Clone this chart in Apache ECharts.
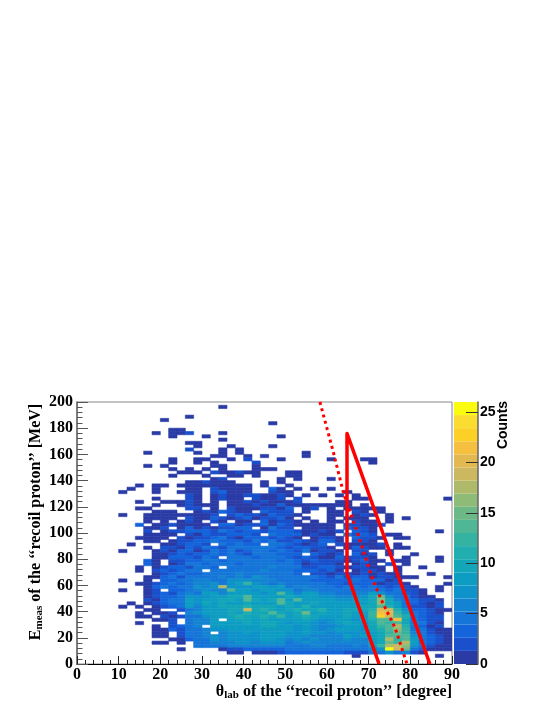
<!DOCTYPE html>
<html>
<head>
<meta charset="utf-8">
<title>recoil proton</title>
<script src="https://cdn.jsdelivr.net/npm/echarts@6/dist/echarts.min.js"></script>
<style>
  html, body { margin: 0; padding: 0; background: #fff; }
  #chart { width: 554px; height: 717px; }
</style>
</head>
<body>
<div id="chart"></div>
<script>
// counts per bin, base 36, top row first (2 deg x 2.5 MeV bins)
const countRows = [
  '..... ..... ..... ..... ..... ..... ..... ..... .....',
  '..... ..... ..... ..1.. ..... ..... ..... ..... .....',
  '..... ..... ..... ..... ..... ..... ..... ..... .....',
  '..... ..... ..... ..... ..... ..... ..... ..... .....',
  '..... ..... ...1. ..... ..... ..... ..... ..... .....',
  '..... ..... 1.... ..... ..... ..... ..... ..... .....',
  '..... ..... ..... ..... ...1. ..... ..... ..... .....',
  '..... ..... ..... ..... ..... ..... ..... ..... .....',
  '..... ..... .11.. ..... ..... ..... ..... ..... .....',
  '..... ....1 .112. ..1.. ..... ..... ..... ..... .....',
  '..... ..... .1... 1.... ....1 ..... ..... ..... .....',
  '..... ..... ..... ..1.. ..... ..... ..... ..... .....',
  '..... ..... ...11 ..... ..... ..... ..... ..... .....',
  '..... ..... ....1 ...1. ...1. ..... ..... ..... .....',
  '..... ..... ...2. ..1.1 ..... ..... ..... ..... .....',
  '..... ...1. ....1 ..1.1 ..... ..1.. ..... ..... .....',
  '..... ..... ..... .11.. 1.1.. ..1.. ..... ..... .....',
  '..... ..... .1..1 1..1. 2...1 ..... 1...1 1.... .....',
  '..... ..... .1..1 .1... .2... ..... ..... 1.... .....',
  '..... ...1. 1.... .11.. .1... ..... ..... ..... .....',
  '..... ..... .1.1. 1.1.. .111. ..... ..... ..... .....',
  '..... ..... ..111 .2112 11... 11... ..... ..... .....',
  '..... ..... .1... 1..11 .1... 11... ..... ..... .....',
  '..... ..... ..... .12.. ....1 .1... 1.... ..... .....',
  '..... ..... ...11 2111. ..1.1 ..... ..... ..... .....',
  '..... ..1.1 1.111 11111 1.1.. 1.... ..... ..... .....',
  '..... .1..1 ...11 .2111 1..31 .1.1. 1.... ..... .....',
  '..... 1...1 ..111 .2311 1..21 1.... ..1.. ..... .....',
  '..... ..... ...21 .1211 22112 1.1.1 .1.1. ..... .....',
  '..... ....1 ...21 .1211 .2112 .2... ...11 ..... ....1',
  '..... ..1.. 11121 .1.11 21211 12... .11.. ..... .....',
  '..... ....1 ..121 11.11 12113 11111 111.1 ..... .....',
  '..... ..11. ...22 .1.21 11221 3.12. 1.111 11... .....',
  '..... ....1 11..1 21321 1.322 2.1.. 11.21 .1... .....',
  '..... 1..11 11111 12.23 22132 21... 11.12 1.1.. .....',
  '..... ...11 11.21 13212 31223 1.1.. 1.111 ..1.1 .....',
  '..... ...1. 1.121 .21.1 1.312 21.1. 11.21 1.1.. .....',
  '..... ..3.1 12111 1.331 22313 21111 1.221 12... .....',
  '..... ...11 2.131 21223 3.142 2.111 1.322 1.... .....',
  '..... ...2. 12233 32432 33233 32112 12.32 1.... ...1.',
  '..... ...11 11.21 32233 32.43 33121 1.423 2.11. .....',
  '..... ..111 1.212 23421 33323 21.12 21.32 21.11 .....',
  '..... ...11 .1223 34333 24342 23213 31.22 1.... .....',
  '..... .1... 11233 2.435 33.44 32123 .2111 12.1. .....',
  '..... ...1. 22132 43244 44453 23322 1.132 11.11 .....',
  '..... 1...1 21331 24352 34434 32412 21.22 ..1.. .....',
  '..... ....1 12323 34353 24443 33.32 12.31 2.1.. 1....',
  '..... ....1 13332 43.44 53444 32321 13222 1...1 ...1.',
  '..... ...31 .2233 44345 44543 43232 22123 11.11 ...1.',
  '..... ...31 .1244 34443 45454 43122 21.12 1.2.1 .....',
  '..... ..1.1 23324 43.54 55464 44223 32122 11.1. .1...',
  '..... ..1.2 32345 .4445 44645 53332 31.12 21.1. .....',
  '..... ....1 23433 54456 55445 43.22 12212 1211. ..1..',
  '..... ...11 34255 55656 57654 55443 24233 12211 1...1',
  '..... 1..1. 33456 65577 76665 45433 33343 3312. .....',
  '..... ..112 34356 67579 C7656 55444 33233 31221 ....1',
  '..... ...13 43547 67I77 78878 56655 43443 43232 1..1.',
  '..... 1..12 .3356 766D8 87997 75665 54444 54342 21.1.',
  '..... ...12 32465 88698 9978D 96886 65566 87543 21...',
  '..... ...12 33477 798AA E9898 A8987 76677 AF754 211..',
  '..... ...21 34487 89AA9 EA9AE 9E999 87788 AGA65 3221.',
  '..... .1.12 34597 A8A99 A989E A99A8 88899 AGA85 3212.',
  '..... 1.1.1 23486 99AAA BAAA9 A9B99 9889A ADB95 2212.',
  '..... ...11 ..256 898AA JABA9 ABAAB 99AAA BKJB7 33211',
  '..... ..1.1 12.67 889A9 BAADA 9AF9A 89A98 CMKC8 4321.',
  '..... ..11. 21255 798AB AABAC 9ABA8 89A98 CNJEB 4322.',
  '..... ....1 12.56 68.9A A9A99 89A87 78978 BDEMA 5322.',
  '..... ..1.. .2.56 68999 A9AA9 78976 79A87 ADCEA 4421.',
  '..... ....1 .2356 .8899 98AA9 87876 67887 ACDHB 5312.',
  '..... ....1 13255 67788 88998 87876 78887 ABDGC 54211',
  '..... ....1 1.244 6.677 87888 77877 67777 9ACFC 64211',
  '..... ....1 1.245 67677 77898 77766 66878 9ADDD 74321',
  '..... ..... .1134 57677 77887 67676 66766 8AHCD 85321',
  '..... ....1 1.1.4 56667 76777 56766 66666 8AFCH 85321',
  '..... ..... ....4 45566 66666 55566 55565 9CHJG 74211',
  '..... ..... ..1.. ..122 33333 45454 44444 67QJF 53111',
  '..... ..... ..... ...11 .1112 33333 33222 45756 21...',
  '..... ..... ..... ..... ..... ..... ...1. ..... ...1.',
  '..... ..... ..... ..... ..... ..... ..... ..... .....',
  '..... ..... ..... ..... ..... ..... ..... ..... .....'
]

const xTicks = [0, 90, 10]
const yTicks = [0, 200, 20]
const barLevels = [1.3, 1.3, 1.3, 1.3, 1.3, 1.3, 1.3, 1.3, 1.3, 1.3, 1.3, 1.3, 1.3, 1.3, 1.3, 1.3, 1.3, 1.3, 1.3, 1.3]
const palette = [
  '#2a3ba6', '#1a50cc', '#1464dc', '#1575d8', '#1484d2',
  '#0e92ca', '#0e9dc2', '#12a6b8', '#20aeae', '#35b3a2',
  '#4fb796', '#6cb887', '#8fbb78', '#aeba6a', '#ccb860',
  '#e2b850', '#f5c040', '#fdd025', '#fbdc30', '#fbfb10'
]

// red cut lines
const cutLine = [[72.5, 0], [64.8, 69], [64.8, 176], [84.7, 0]]
const dottedLine = [[58.3, 200], [61.5, 162], [64, 130], [67.5, 98.5], [71, 64], [73.4, 46.5], [76.3, 28], [79.2, 0]]

const xBin = 2
const yBin = 2.5
const levelStep = 1.3

// turn the rows into [xLow, yLow, count]
const cells = []
countRows.forEach((row, i) => {
  const chars = row.replace(/ /g, '')
  const yIndex = countRows.length - 1 - i
  for (let c = 0; c < chars.length; c++) {
    if (chars[c] === '.') continue
    cells.push([c * xBin, yIndex * yBin, parseInt(chars[c], 36)])
  }
})

function renderCell(params, api) {
  const p0 = api.coord([api.value(0), api.value(1)])
  const p1 = api.coord([api.value(0) + xBin, api.value(1) + yBin])
  const level = Math.min(palette.length - 1, Math.floor(api.value(2) / levelStep))
  return {
    type: 'rect',
    shape: { x: p0[0], y: p1[1], width: p1[0] - p0[0], height: p0[1] - p1[1] },
    style: { fill: palette[level], stroke: palette[level], lineWidth: 0.6 }
  }
}

const serif = 'Liberation Serif'
const sans = 'Liberation Sans'
const titleRich = {
  m: { fontFamily: serif, fontWeight: 'bold', fontSize: 16, fill: '#000' },
  s: { fontFamily: serif, fontWeight: 'bold', fontSize: 11, fill: '#000', padding: [7, 0, 0, 0] }
}

const chart = echarts.init(document.getElementById('chart'), null, { renderer: 'canvas' })
chart.setOption({
  animation: false,
  backgroundColor: '#fff',
  grid: [
    { left: 77, top: 402, width: 375, height: 262, show: true, borderColor: '#888', borderWidth: 1, backgroundColor: '#fff' },
    { left: 454, top: 402, width: 24, height: 262 }
  ],
  xAxis: [
    {
      type: 'value', gridIndex: 0, min: xTicks[0], max: xTicks[1], interval: xTicks[2],
      splitLine: { show: false },
      axisLine: { lineStyle: { color: '#000', width: 1 } },
      axisTick: { inside: true, length: 8, lineStyle: { color: '#222' } },
      minorTick: { show: true, splitNumber: 5, length: 4, lineStyle: { color: '#222' } },
      axisLabel: { fontFamily: serif, fontWeight: 'bold', fontSize: 16, color: '#000', margin: 3 }
    },
    {
      type: 'category', gridIndex: 1, data: ['c'], show: false
    }
  ],
  yAxis: [
    {
      type: 'value', gridIndex: 0, min: yTicks[0], max: yTicks[1], interval: yTicks[2],
      splitLine: { show: false },
      axisLine: { lineStyle: { color: '#666', width: 1.5 } },
      axisTick: { inside: true, length: 11, lineStyle: { color: '#555' } },
      minorTick: { show: true, splitNumber: 5, length: 5.5, lineStyle: { color: '#555' } },
      axisLabel: { fontFamily: serif, fontWeight: 'bold', fontSize: 16, color: '#000', margin: 4 }
    },
    {
      type: 'value', gridIndex: 1, position: 'right', min: 0, max: 26, interval: 5, zlevel: 1,
      splitLine: { show: false },
      axisLine: { show: true, lineStyle: { color: '#666', width: 1.5 } },
      axisTick: { show: true, inside: true, length: 12, lineStyle: { color: '#333', width: 1 } },
      axisLabel: { fontFamily: sans, fontWeight: 'bold', fontSize: 14, color: '#000', margin: 2, showMaxLabel: false }
    }
  ],
  graphic: [
    {
      type: 'text', x: 452, y: 692,
      style: {
        text: '{m|θ}{s|lab}{m| of the ‘‘recoil proton’’ [degree]}',
        rich: titleRich, align: 'right', verticalAlign: 'middle'
      }
    },
    {
      type: 'text', x: 36, y: 522, rotation: Math.PI / 2,
      style: {
        text: '{m|E}{s|meas}{m| of the ‘‘recoil proton’’ [MeV]}',
        rich: titleRich, align: 'center', verticalAlign: 'middle'
      }
    },
    {
      type: 'text', x: 503, y: 425, rotation: Math.PI / 2,
      style: {
        text: 'Counts', fontFamily: sans, fontWeight: 'bold', fontSize: 14, fill: '#000',
        align: 'center', verticalAlign: 'middle'
      }
    }
  ],
  series: [
    {
      type: 'custom', xAxisIndex: 0, yAxisIndex: 0, data: cells,
      renderItem: renderCell, clip: true, silent: true
    },
    {
      type: 'line', xAxisIndex: 0, yAxisIndex: 0, data: dottedLine, symbol: 'none', clip: true, silent: true,
      lineStyle: { color: '#f00', width: 3, type: [3, 3.5] }
    },
    {
      type: 'line', xAxisIndex: 0, yAxisIndex: 0, data: cutLine, symbol: 'none', clip: true, silent: true,
      lineStyle: { color: '#f00', width: 3.5, join: 'round' }
    }
  ].concat(barLevels.map((v, i) => ({
    type: 'bar', xAxisIndex: 1, yAxisIndex: 1, stack: 'scale', data: [v], barWidth: '100%', silent: true,
    itemStyle: { color: palette[i] }
  })))
})
</script>
</body>
</html>
